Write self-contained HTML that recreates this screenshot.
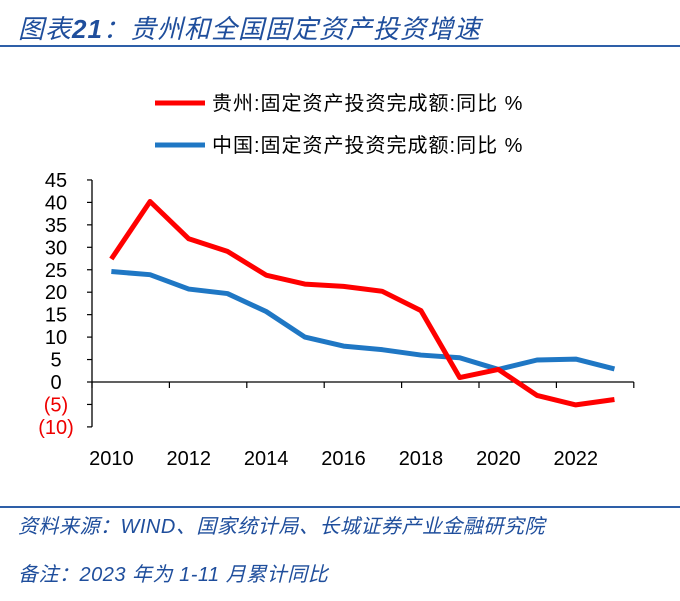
<!DOCTYPE html>
<html><head><meta charset="utf-8"><style>
body{margin:0;background:#fff;width:680px;height:601px;overflow:hidden;position:relative;font-family:"Liberation Sans","Noto Sans CJK SC",sans-serif}
.t{position:absolute;color:#1f4e9c;font-style:italic;white-space:nowrap}
</style></head><body>
<div class="t" style="left:18px;top:9px;font-size:26px;letter-spacing:1px">图表<b>21</b>：贵州和全国固定资产投资增速</div>
<div style="position:absolute;left:0;top:45px;width:680px;height:2px;background:#2e5fa8"></div>
<svg id="chart" width="680" height="500" style="position:absolute;left:0;top:0" font-family="Liberation Sans, Noto Sans CJK SC, sans-serif"></svg>
<div style="position:absolute;left:0;top:506px;width:680px;height:2px;background:#2e5fa8"></div>
<div class="t" style="left:18px;top:510px;font-size:20px;letter-spacing:0.5px">资料来源：WIND、国家统计局、长城证券产业金融研究院</div>
<div class="t" style="left:18px;top:558px;font-size:20px;letter-spacing:0.5px">备注：2023 年为 1-11 月累计同比</div>
<script>
const years=[2010,2011,2012,2013,2014,2015,2016,2017,2018,2019,2020,2021,2022,2023];
const guizhou=[27.4,40.2,31.9,29.1,23.8,21.8,21.3,20.2,15.9,1.0,2.8,-3.0,-5.1,-3.9];
const china=[24.6,23.9,20.7,19.7,15.7,10.0,8.0,7.2,6.0,5.4,2.8,4.9,5.1,2.9];
const yTicks=[45,40,35,30,25,20,15,10,5,0,-5,-10];
const xLabels=[2010,2012,2014,2016,2018,2020,2022];
const seriesNames=["贵州:固定资产投资完成额:同比 %","中国:固定资产投资完成额:同比 %"];
const svg=document.getElementById('chart');const NS='http://www.w3.org/2000/svg';
const x0=92,cw=38.7,y0=382,ppu=4.49;
const xs=i=>x0+cw*(i+0.5), ys=v=>y0-v*ppu;
function mk(t,a,p){const e=document.createElementNS(NS,t);for(const k in a)e.setAttribute(k,a[k]);(p||svg).appendChild(e);return e;}
let e=mk('line',{x1:x0,x2:x0,y1:ys(45),y2:ys(-10),stroke:'#000','stroke-width':1.3});


e=mk('line',{x1:x0,x2:x0+cw*14,y1:y0,y2:y0,stroke:'#000','stroke-width':1.3});


yTicks.forEach(v=>{
 mk('line',{x1:x0-5,x2:x0,y1:ys(v),y2:ys(v),stroke:'#000','stroke-width':1.2});
 const t=mk('text',{x:56,y:ys(v)+7,'text-anchor':'middle','font-size':20,fill:v<0?'#e00':'#000'});
 t.textContent=v<0?'('+(-v)+')':v;
 
 
});
for(let i=0;i<=14;i+=2){mk('line',{x1:x0+cw*i,x2:x0+cw*i,y1:y0,y2:y0+6,stroke:'#000','stroke-width':1.2});}
xLabels.forEach(yr=>{
 const i=years.indexOf(yr);
 const t=mk('text',{x:xs(i),y:465,'text-anchor':'middle','font-size':20,fill:'#000'});
 t.textContent=yr;
 
 
});
function line(d,c,name){
 const p=mk('polyline',{points:d.map((v,i)=>xs(i)+','+ys(v)).join(' '),fill:'none',stroke:c,'stroke-width':5,'stroke-linejoin':'round'});
 
 
}
line(china,'#1f77c4','china-series-line');
line(guizhou,'#f00','guizhou-series-line');
[['#f00',103,'legend-entry-guizhou'],['#1f77c4',145,'legend-entry-china']].forEach((l,k)=>{
 const g=mk('g',{});
 
 
 mk('line',{x1:155,x2:205,y1:l[1],y2:l[1],stroke:l[0],'stroke-width':5},g);
 const t=mk('text',{x:212,y:l[1]+7,'font-size':20,'letter-spacing':1,fill:'#000'},g);t.textContent=seriesNames[k];
});
</script>
</body></html>
